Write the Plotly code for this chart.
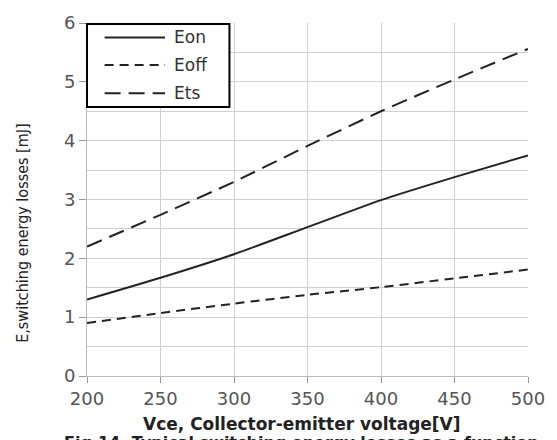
import plotly.graph_objects as go

vce = [200, 250, 300, 350, 400, 450, 500]
eon = [1.30, 1.67, 2.07, 2.53, 2.99, 3.38, 3.75]
eoff = [0.90, 1.07, 1.23, 1.38, 1.51, 1.66, 1.81]
ets = [2.20, 2.74, 3.30, 3.91, 4.50, 5.04, 5.56]
names = ["Eon", "Eoff", "Ets"]
dashes = ["solid", "9px,6px", "16px,8px"]

LINE = "#222222"
GRID = "#d0d0d0"
fig = go.Figure()
for name, ys, d in zip(names, [eon, eoff, ets], dashes):
    fig.add_trace(go.Scatter(x=vce, y=ys, mode="lines", name=name,
                             line=dict(color=LINE, width=2, dash=d, shape="spline", smoothing=0.6),
                             showlegend=False))

tickfont = dict(family="DejaVu Sans, sans-serif", size=18, color="#555555")
fig.update_layout(
    width=557, height=440,
    margin=dict(l=87, r=24, t=14, b=64),
    paper_bgcolor="white", plot_bgcolor="white",
    xaxis=dict(range=[200, 500], dtick=50, tick0=200, showgrid=True, gridcolor=GRID, gridwidth=1,
               ticks="outside", ticklen=6, tickcolor="#999999", tickfont=tickfont,
               showline=True, linecolor="#bbbbbb", zeroline=False),
    yaxis=dict(range=[0, 6], dtick=1, tick0=0, showgrid=True, gridcolor=GRID, gridwidth=1,
               minor=dict(dtick=0.5, tick0=0, showgrid=True, gridcolor=GRID, gridwidth=1, ticks=""),
               ticks="outside", ticklen=7, tickcolor="#999999", tickfont=tickfont,
               showline=True, linecolor="#bbbbbb", zeroline=False),
    yaxis2=dict(range=[0, 6], dtick=0.5, tick0=0, overlaying="y", side="left", showgrid=True,
                gridcolor=GRID, gridwidth=1, showticklabels=False, ticks="", zeroline=False,
                showline=False),
)

# Custom legend box
fig.add_shape(type="rect", xref="paper", yref="paper", x0=0.0, x1=0.323, y0=0.762, y1=0.997,
              line=dict(color="black", width=2), fillcolor="white", layer="above")
leg_y = [0.959, 0.881, 0.801]
for name, d, yy in zip(names, dashes, leg_y):
    fig.add_shape(type="line", xref="paper", yref="paper", x0=0.040, x1=0.177, y0=yy, y1=yy,
                  line=dict(color=LINE, width=2, dash=d), layer="above")
    fig.add_annotation(text=name, xref="paper", yref="paper", x=0.193, y=yy, xanchor="left",
                       yanchor="middle", showarrow=False,
                       font=dict(family="DejaVu Sans, sans-serif", size=17, color="#333333"))

fig.add_annotation(text="Vce, Collector-emitter voltage[V]", xref="paper", yref="paper",
                   x=0.487, y=-0.137, xanchor="center", yanchor="middle", showarrow=False,
                   font=dict(family="DejaVu Sans, sans-serif", size=17, color="#222222", weight="bold"))
fig.add_annotation(text="E,switching energy losses [mJ]", xref="paper", yref="paper",
                   x=-0.145, y=0.403, xanchor="center", yanchor="middle", textangle=-90, showarrow=False,
                   font=dict(family="DejaVu Sans Condensed, Liberation Sans Narrow, sans-serif", size=16,
                             color="#222222"))
fig.add_annotation(text="Fig.14. Typical switching energy losses as a function", xref="paper", yref="paper",
                   x=0.487, y=-0.156, xanchor="center", yanchor="top", showarrow=False,
                   font=dict(family="DejaVu Sans, sans-serif", size=16, color="#222222", weight="bold"))

fig.write_html("out.html", config={"displayModeBar": False},
               post_script="document.body.style.margin='0';document.body.style.overflow='hidden';")
